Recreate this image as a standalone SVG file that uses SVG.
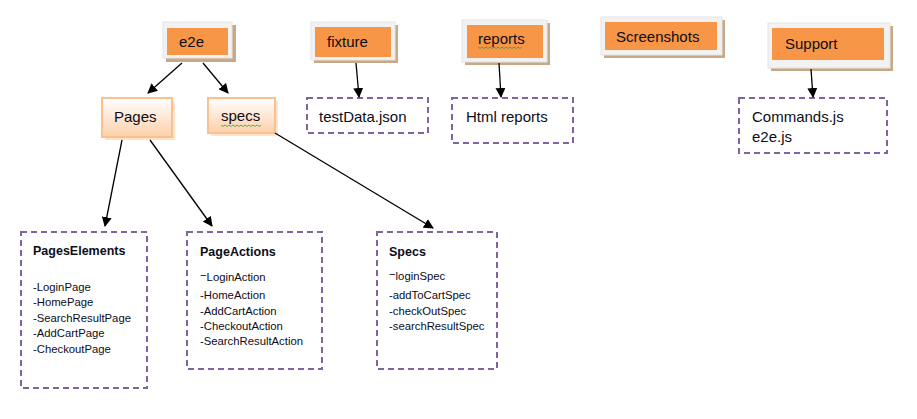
<svg xmlns="http://www.w3.org/2000/svg" width="917" height="419" viewBox="0 0 917 419">
<defs>
<linearGradient id="peach" x1="0" y1="0" x2="0" y2="1">
<stop offset="0" stop-color="#ffffff"/>
<stop offset="1" stop-color="#fcd0aa"/>
</linearGradient>
<marker id="ah" markerWidth="10" markerHeight="10" refX="9" refY="5" orient="auto" markerUnits="userSpaceOnUse">
<path d="M0,0 L10,5 L0,10 z" fill="#000"/>
</marker>
</defs>
<style>
text{font-family:"Liberation Sans",Arial,sans-serif;fill:#0d0d1a}
.shadow{fill:#c9a886}
.frame{fill:#f2f2f2;stroke:#e4e4e4;stroke-width:1}
.orange{fill:#f79646}
.lbl{font-size:15px}
.dash{fill:#fff;stroke:#8064a2;stroke-width:2;stroke-dasharray:6,4}
.pch{fill:url(#peach);stroke:#fac090;stroke-width:2}
.psh{fill:#fde3cc}
.big{font-size:15px}
.title{font-size:12.5px;font-weight:bold}
.item{font-size:11.3px}
.conn line{stroke:#000;stroke-width:1.3;marker-end:url(#ah)}
.wavy{fill:none;stroke:#3a9a3a;stroke-width:0.8}
</style>
<rect width="917" height="419" fill="#fff"/>

<g id="e2e">
<rect class="shadow" x="166" y="25" width="70" height="37"/>
<rect class="frame" x="163" y="22" width="69" height="36"/>
<rect class="orange" x="167" y="28" width="61" height="27"/>
<text class="lbl" x="179" y="47">e2e</text>
</g>

<g id="fixture">
<rect class="shadow" x="314" y="25" width="84" height="38"/>
<rect class="frame" x="311" y="22" width="84" height="38"/>
<rect class="orange" x="315" y="27" width="76" height="30"/>
<text class="lbl" x="327" y="47">fixture</text>
</g>

<g id="reports">
<rect class="shadow" x="465" y="23" width="85" height="42"/>
<rect class="frame" x="462" y="20" width="85" height="42"/>
<rect class="orange" x="467" y="25" width="76" height="33"/>
<text class="lbl" x="478" y="44">reports</text>
<path class="wavy" d="M478,47 l2,1.5 l2,-1.5 l2,1.5 l2,-1.5 l2,1.5 l2,-1.5 l2,1.5 l2,-1.5 l2,1.5 l2,-1.5 l2,1.5 l2,-1.5 l2,1.5 l2,-1.5 l2,1.5 l2,-1.5 l2,1.5 l2,-1.5 l2,1.5 l2,-1.5 l2,1.5 l2,-1.5"/>
</g>

<g id="screenshots">
<rect class="shadow" x="604" y="20" width="121" height="38"/>
<rect class="frame" x="601" y="17" width="121" height="38"/>
<rect class="orange" x="605" y="22" width="112" height="28"/>
<text class="lbl" x="616" y="42">Screenshots</text>
</g>

<g id="support">
<rect class="shadow" x="771" y="26" width="122" height="45"/>
<rect class="frame" x="768" y="23" width="122" height="45"/>
<rect class="orange" x="772" y="28" width="112" height="32"/>
<text class="lbl" x="785" y="49">Support</text>
</g>

<g id="pages">
<rect class="psh" x="105" y="101" width="70" height="39"/>
<rect class="pch" x="102" y="98" width="70" height="39"/>
<text class="big" x="114" y="122">Pages</text>
</g>

<g id="specs">
<rect class="psh" x="211" y="101" width="67" height="35"/>
<rect class="pch" x="208" y="98" width="67" height="35"/>
<text class="big" x="221" y="121">specs</text>
<path class="wavy" d="M221,125 l2,1.5 l2,-1.5 l2,1.5 l2,-1.5 l2,1.5 l2,-1.5 l2,1.5 l2,-1.5 l2,1.5 l2,-1.5 l2,1.5 l2,-1.5 l2,1.5 l2,-1.5 l2,1.5 l2,-1.5 l2,1.5 l2,-1.5 l2,1.5 l2,-1.5"/>
</g>

<g id="testData">
<rect class="dash" x="307" y="98" width="121" height="35"/>
<text class="big" x="319" y="122">testData.json</text>
</g>

<g id="htmlReports">
<rect class="dash" x="452" y="98" width="121" height="45"/>
<text class="big" x="466" y="122">Html reports</text>
</g>

<g id="supportFiles">
<rect class="dash" x="739" y="98" width="148" height="55"/>
<text class="big" x="752" y="122">Commands.js</text>
<text class="big" x="752" y="142">e2e.js</text>
</g>

<g id="pagesElements">
<rect class="dash" x="21" y="232" width="126" height="156"/>
<text class="title" x="33" y="255">PagesElements</text>
<text class="item" x="33" y="291">-LoginPage</text>
<text class="item" x="33" y="306">-HomePage</text>
<text class="item" x="33" y="322">-SearchResultPage</text>
<text class="item" x="33" y="337">-AddCartPage</text>
<text class="item" x="33" y="353">-CheckoutPage</text>
</g>

<g id="pageActions">
<rect class="dash" x="187" y="232" width="135" height="137"/>
<text class="title" x="200" y="256">PageActions</text>
<text class="item" x="200" y="281"><tspan dy="-2">−</tspan><tspan dy="2">LoginAction</tspan></text>
<text class="item" x="200" y="299">-HomeAction</text>
<text class="item" x="200" y="315">-AddCartAction</text>
<text class="item" x="200" y="330">-CheckoutAction</text>
<text class="item" x="200" y="345">-SearchResultAction</text>
</g>

<g id="specsBox">
<rect class="dash" x="377" y="232" width="120" height="137"/>
<text class="title" x="389" y="256">Specs</text>
<text class="item" x="389" y="280"><tspan dy="-2">−</tspan><tspan dy="2">loginSpec</tspan></text>
<text class="item" x="389" y="299">-addToCartSpec</text>
<text class="item" x="389" y="315">-checkOutSpec</text>
<text class="item" x="389" y="330">-searchResultSpec</text>
</g>

<g id="connectors" class="conn">
<line x1="182" y1="63" x2="148" y2="93"/>
<line x1="203" y1="63" x2="228" y2="93"/>
<line x1="356" y1="63" x2="359" y2="97"/>
<line x1="499" y1="63" x2="501" y2="97"/>
<line x1="811" y1="69" x2="813" y2="97"/>
<line x1="122" y1="140" x2="105" y2="226"/>
<line x1="150" y1="140" x2="212" y2="226"/>
<line x1="275" y1="133" x2="433" y2="228"/>
</g>
</svg>
